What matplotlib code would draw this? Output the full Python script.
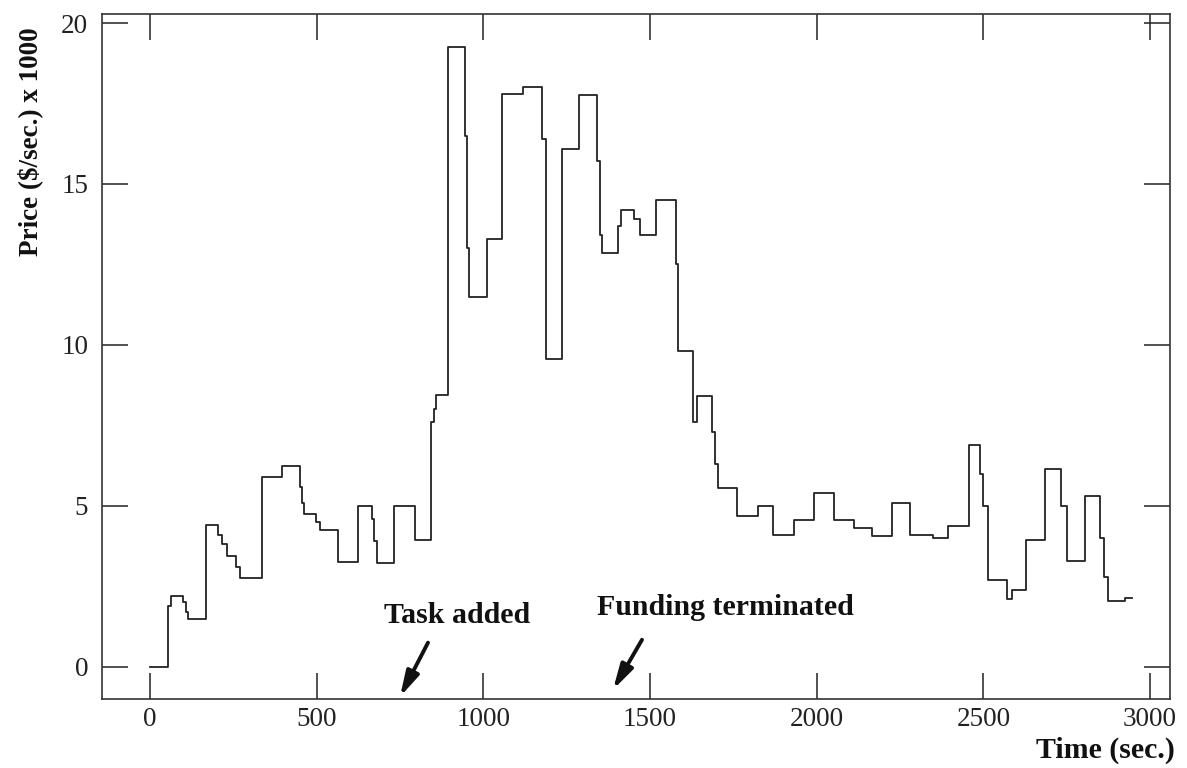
import matplotlib
matplotlib.use("Agg")
import matplotlib.pyplot as plt

# ---- data ----
change_times = [0, 54, 63, 100, 108, 114, 168, 204, 216, 231, 258, 270,
                336, 396, 450, 456, 462, 498, 510, 564, 624, 666, 672, 681,
                732, 795, 843, 852, 858, 894, 945, 951, 957, 1011, 1056, 1119,
                1176, 1188, 1236, 1287, 1341, 1350, 1356, 1404, 1413, 1452, 1470, 1518,
                1578, 1584, 1629, 1641, 1686, 1695, 1704, 1761, 1824, 1869, 1932, 1992,
                2052, 2112, 2166, 2226, 2280, 2349, 2394, 2457, 2490, 2500, 2514, 2570,
                2586, 2628, 2685, 2733, 2751, 2805, 2850, 2862, 2874, 2925, 2946]
price_levels = [0.0, 1.9, 2.2, 2.0, 1.7, 1.5, 4.4, 4.1, 3.8, 3.45, 3.1, 2.75,
                5.9, 6.25, 5.6, 5.1, 4.75, 4.5, 4.25, 3.25, 5.0, 4.6, 3.9, 3.22,
                5.0, 3.95, 7.6, 8.0, 8.45, 19.25, 16.5, 13.0, 11.5, 13.3, 17.8, 18.0,
                16.4, 9.55, 16.1, 17.75, 15.7, 13.4, 12.85, 13.7, 14.2, 13.9, 13.4, 14.5,
                12.5, 9.8, 7.6, 8.4, 7.3, 6.3, 5.55, 4.7, 5.0, 4.08, 4.55, 5.4,
                4.57, 4.32, 4.07, 5.1, 4.08, 3.99, 4.36, 6.9, 6.0, 5.0, 2.71, 2.1,
                2.4, 3.95, 6.15, 5.0, 3.3, 5.3, 4.0, 2.8, 2.05, 2.14, 2.14]

x_ticks = [0, 500, 1000, 1500, 2000, 2500, 3000]
y_ticks = [0, 5, 10, 15, 20]

event_labels = ["Task added", "Funding terminated"]
event_times = [750, 1389]

# ---- figure ----
plt.rcParams['font.family'] = ['Liberation Serif', 'DejaVu Serif']
fig = plt.figure(figsize=(11.87, 7.68), dpi=100)
W, H = 1187, 768
ax = fig.add_axes([102 / W, 1 - 699 / H, (1170 - 102) / W, (699 - 14) / H])

ax.plot(change_times, price_levels, drawstyle='steps-post',
        color='#222222', lw=1.3)

ax.set_xlim(-144, 3060)
ax.set_ylim(-1.0, 20.28)
ax.set_xticks(x_ticks)
ax.set_yticks(y_ticks)
ax.tick_params(axis='both', which='major', direction='in', length=19, width=1.1,
               top=True, right=True, labelsize=19.5, colors='#222222')
ax.tick_params(axis='x', pad=6)
ax.tick_params(axis='y', pad=10)
for s in ax.spines.values():
    s.set_linewidth(1.2)
    s.set_color('#333333')

# annotations
text_pos = [(921, 1.37), (1725, 1.61)]
tail_pos = [(834, 0.75), (1476, 0.84)]
tip_y = [-0.93, -0.71]
for lab, t, tp, tl, ty in zip(event_labels, event_times, text_pos, tail_pos, tip_y):
    ax.text(tp[0], tp[1], lab, ha='center', va='baseline', fontsize=21.5,
            fontweight='bold', color='#111111')
    ax.annotate('', xy=(t, ty), xytext=tl,
                arrowprops=dict(arrowstyle='-|>,head_length=1.5,head_width=0.4',
                                lw=2.8, color='#111111', shrinkA=0, shrinkB=0))

fig.text(30 / W, 1 - 142 / H, 'Price (\\$/sec.) x 1000', rotation=90,
         ha='center', va='center', fontsize=19.5, fontweight='bold', color='#111111')
fig.text(1105 / W, 1 - 750 / H, 'Time (sec.)', ha='center', va='center',
         fontsize=21.5, fontweight='bold', color='#111111')

fig.savefig('out.png', dpi=100)
